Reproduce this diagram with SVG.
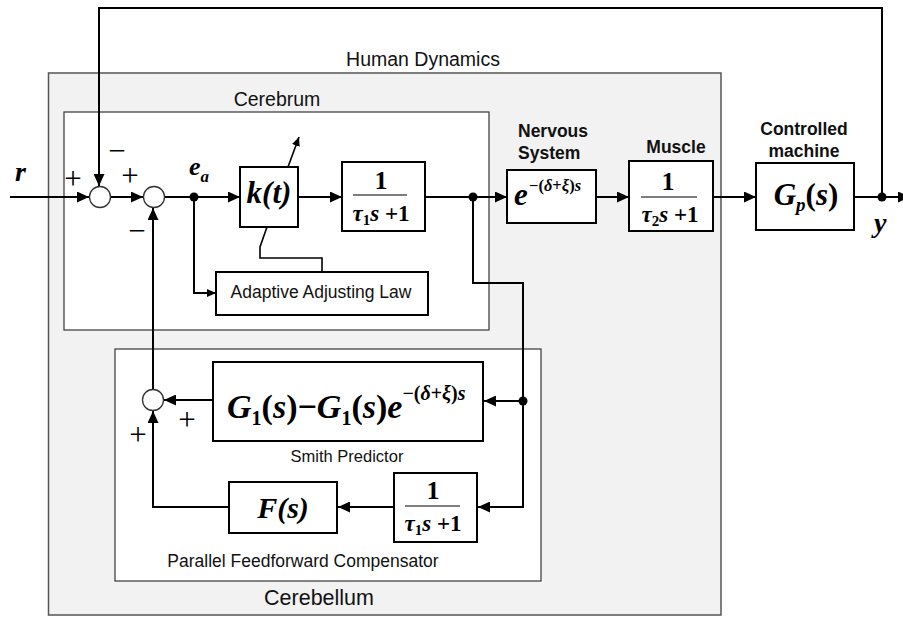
<svg xmlns="http://www.w3.org/2000/svg" width="903" height="617" viewBox="0 0 903 617">
<style>
.bg{fill:#fff}
.grp{fill:#f2f2f2;stroke:#555;stroke-width:1.5}
.sub{fill:#fff;stroke:#444;stroke-width:1.3}
.blk{fill:#fff;stroke:#000;stroke-width:2}
.sum{fill:#fff;stroke:#333;stroke-width:1.3}
.w{fill:none;stroke:#000;stroke-width:2}
.wt{fill:none;stroke:#000;stroke-width:1.6}
.fr{stroke:#000;stroke-width:1.2}
.dot{fill:#000}
.lbl{font-family:"Liberation Sans",Arial,sans-serif;fill:#111}
.bl{font-family:"Liberation Sans",Arial,sans-serif;font-weight:bold;font-size:17.5px;fill:#111}
.m{font-family:"Liberation Serif","Times New Roman",serif;font-weight:bold;fill:#000}
.i{font-style:italic}
.sg{font-family:"Liberation Serif","Times New Roman",serif;font-size:31px;fill:#000}
</style>
<defs>
<marker id="ah" viewBox="0 0 12 11" refX="12" refY="5.5" markerWidth="12" markerHeight="11" markerUnits="userSpaceOnUse" orient="auto"><path d="M0,0 L12,5.5 L0,11 z" fill="#000"/></marker>
<marker id="as" viewBox="0 0 9 8" refX="9" refY="4" markerWidth="9" markerHeight="8" markerUnits="userSpaceOnUse" orient="auto"><path d="M0,0 L9,4 L0,8 z" fill="#000"/></marker>
</defs>
<rect class="bg" x="0" y="0" width="903" height="617"/>

<g id="human-dynamics">
<rect class="grp" x="48.5" y="73" width="672.5" height="542"/>
<text class="lbl" x="423" y="66" font-size="19.5" text-anchor="middle">Human Dynamics</text>
</g>
<g id="cerebrum">
<rect class="sub" x="64" y="112" width="425" height="218"/>
<text class="lbl" x="277" y="106" font-size="19.5" text-anchor="middle">Cerebrum</text>
</g>
<g id="cerebellum">
<rect class="sub" x="115" y="349" width="426" height="232"/>
<text class="lbl" x="319" y="605" font-size="21.5" text-anchor="middle">Cerebellum</text>
</g>

<g id="connectors">
<path class="w" d="M10,197 H89" marker-end="url(#ah)"/>
<path class="w" d="M111,197 H143" marker-end="url(#ah)"/>
<path class="w" d="M165,197 H240" marker-end="url(#ah)"/>
<path class="w" d="M298,197 H342" marker-end="url(#ah)"/>
<path class="w" d="M425,197 H507" marker-end="url(#ah)"/>
<path class="w" d="M596,197 H629" marker-end="url(#ah)"/>
<path class="w" d="M713,197 H756" marker-end="url(#ah)"/>
<path class="w" d="M854,197 H910" marker-end="url(#ah)"/>
<path class="w" d="M882,197 V8 H99 V186" marker-end="url(#ah)"/>
<path class="w" d="M473,197 V283 H523 V507 H478" marker-end="url(#ah)"/>
<path class="w" d="M523,401 H484" marker-end="url(#ah)"/>
<path class="w" d="M213,400 H164" marker-end="url(#ah)"/>
<path class="w" d="M394,507 H338" marker-end="url(#ah)"/>
<path class="w" d="M229,507 H153 V411" marker-end="url(#ah)"/>
<path class="w" d="M153,390 V208" marker-end="url(#ah)"/>
<path class="w" d="M194,197 V293 H216" marker-end="url(#as)"/>
<path class="wt" d="M288,167 L299,137" marker-end="url(#as)"/>
<path class="wt" d="M267,227 L260,247 V258 H322 V272"/>
<circle class="dot" cx="194" cy="197" r="4.5"/>
<circle class="dot" cx="473" cy="197" r="4.5"/>
<circle class="dot" cx="523" cy="401" r="4.5"/>
<circle class="dot" cx="882" cy="197" r="4.5"/>
</g>

<g id="sum1"><circle class="sum" cx="100" cy="197" r="10.5"/></g>
<g id="sum2"><circle class="sum" cx="154" cy="197" r="10.5"/></g>
<g id="sum3"><circle class="sum" cx="153" cy="400" r="10.5"/></g>

<g id="signs">
<text class="m i" x="15" y="181" font-size="28">r</text>
<text class="sg" x="73" y="189" text-anchor="middle">+</text>
<text class="sg" x="117" y="161" text-anchor="middle">−</text>
<text class="sg" x="130" y="186" text-anchor="middle">+</text>
<text class="sg" x="137" y="241" text-anchor="middle">−</text>
<text class="sg" x="187" y="430" text-anchor="middle">+</text>
<text class="sg" x="138" y="445" text-anchor="middle">+</text>
<text class="m i" x="189" y="175" font-size="26">e<tspan font-size="17" dy="7">a</tspan></text>
<text class="m i" x="874" y="232" font-size="28">y</text>
</g>

<g id="kt">
<rect class="blk" x="240" y="167" width="58" height="60"/>
<text class="m i" x="269" y="203" font-size="31" text-anchor="middle">k(t)</text>
</g>

<g id="adaptive">
<rect class="blk" x="216" y="272" width="212" height="43"/>
<text class="lbl" x="321" y="298" font-size="17.5" text-anchor="middle">Adaptive Adjusting Law</text>
</g>

<g id="lowpass1">
<rect class="blk" x="342" y="162" width="83" height="69"/>
<text class="m" x="381" y="189" font-size="26" text-anchor="middle">1</text>
<line class="fr" x1="353" y1="195" x2="407" y2="195"/>
<text class="m" x="381" y="221" font-size="23" text-anchor="middle"><tspan class="i">τ</tspan><tspan font-size="15" dy="4">1</tspan><tspan class="i" dy="-4">s</tspan> +1</text>
</g>

<g id="nervous">
<text class="bl" x="518" y="137">Nervous</text>
<text class="bl" x="518" y="159">System</text>
<rect class="blk" x="507" y="170" width="89" height="53"/>
<text class="m i" x="514" y="205" font-size="31">e</text>
<text class="m" x="529" y="191" font-size="16.5">−(<tspan class="i">δ</tspan>+<tspan class="i">ξ</tspan>)<tspan class="i">s</tspan></text>
</g>

<g id="muscle">
<text class="bl" x="676" y="153" text-anchor="middle">Muscle</text>
<rect class="blk" x="629" y="161" width="84" height="70"/>
<text class="m" x="668" y="190" font-size="26" text-anchor="middle">1</text>
<line class="fr" x1="641" y1="197" x2="697" y2="197"/>
<text class="m" x="670" y="222" font-size="23" text-anchor="middle"><tspan class="i">τ</tspan><tspan font-size="15" dy="4">2</tspan><tspan class="i" dy="-4">s</tspan> +1</text>
</g>

<g id="machine">
<text class="bl" x="804" y="135" text-anchor="middle">Controlled</text>
<text class="bl" x="804" y="157" text-anchor="middle">machine</text>
<rect class="blk" x="756" y="163" width="98" height="67"/>
<text class="m" x="806" y="205" font-size="31" text-anchor="middle"><tspan class="i">G</tspan><tspan class="i" font-size="19" dy="6">p</tspan><tspan dy="-6">(</tspan><tspan class="i">s</tspan>)</text>
</g>

<g id="smith">
<rect class="blk" x="213" y="362" width="270" height="79"/>
<text class="m" x="227" y="418" font-size="34"><tspan class="i">G</tspan><tspan font-size="20" dy="7">1</tspan><tspan dy="-7">(</tspan><tspan class="i">s</tspan>)−<tspan class="i">G</tspan><tspan font-size="20" dy="7">1</tspan><tspan dy="-7">(</tspan><tspan class="i">s</tspan>)<tspan class="i">e</tspan><tspan font-size="20" dy="-18">−(</tspan><tspan class="i" font-size="20">δ</tspan><tspan font-size="20">+</tspan><tspan class="i" font-size="20">ξ</tspan><tspan font-size="20">)</tspan><tspan class="i" font-size="20">s</tspan></text>
<text class="lbl" x="347" y="462" font-size="16.5" text-anchor="middle">Smith Predictor</text>
</g>

<g id="lowpass2">
<rect class="blk" x="394" y="473" width="83" height="69"/>
<text class="m" x="433" y="499" font-size="26" text-anchor="middle">1</text>
<line class="fr" x1="405" y1="506" x2="460" y2="506"/>
<text class="m" x="433" y="531" font-size="23" text-anchor="middle"><tspan class="i">τ</tspan><tspan font-size="15" dy="4">1</tspan><tspan class="i" dy="-4">s</tspan> +1</text>
</g>

<g id="fs">
<rect class="blk" x="229" y="482" width="108" height="51"/>
<text class="m i" x="283" y="518" font-size="30" text-anchor="middle">F(s)</text>
</g>

<g id="pff-label">
<text class="lbl" x="303" y="567" font-size="17.5" text-anchor="middle">Parallel Feedforward Compensator</text>
</g>
</svg>
